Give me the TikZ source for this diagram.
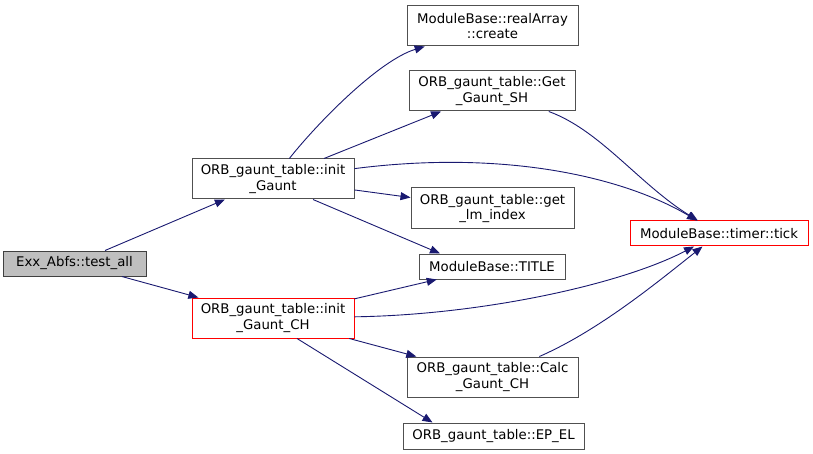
\documentclass[tikz,border=0pt]{standalone}
\usepackage{fontspec}
\setmainfont{DejaVu Sans}
\usepackage{xcolor}
\usepackage{tikz}
\usetikzlibrary{arrows.meta}
\definecolor{callblue}{RGB}{25,25,112}
\definecolor{callgray}{RGB}{80,80,80}
\definecolor{callred}{RGB}{255,0,0}
\definecolor{rootfill}{RGB}{191,191,191}
\tikzset{
  callbox/.style={
    rectangle,
    draw=callgray,
    line width=1pt,
    fill=white,
    align=center,
    inner sep=0pt,
    font=\fontsize{13.3}{15.5}\selectfont
  },
  callroot/.style={
    callbox,
    draw=black!75,
    fill=rootfill
  },
  callhot/.style={
    callbox,
    draw=callred
  },
  callarrow/.style={
    -{Triangle[length=10pt,width=8pt,fill=callblue]},
    line width=0.9pt,
    draw=callblue
  }
}
\begin{document}
\begin{tikzpicture}[x=1pt,y=-1pt]
\useasboundingbox (0,0) rectangle (813,454);
\node[callroot, minimum width=143pt, minimum height=25pt] (testall) at (74.5,263.5) {Exx\_Abfs::test\_all};
\node[callbox, minimum width=162pt, minimum height=40pt] (initgaunt) at (273,179) {ORB\_gaunt\_table::init\\\_Gaunt};
\node[callhot, minimum width=162pt, minimum height=40pt] (initgauntch) at (273,318) {ORB\_gaunt\_table::init\\\_Gaunt\_CH};
\node[callbox, minimum width=171pt, minimum height=40pt] (create) at (492.5,26) {ModuleBase::realArray\\::create};
\node[callbox, minimum width=166pt, minimum height=40pt] (getgauntsh) at (492,91) {ORB\_gaunt\_table::Get\\\_Gaunt\_SH};
\node[callbox, minimum width=163pt, minimum height=41pt] (getlmindex) at (492.5,208.5) {ORB\_gaunt\_table::get\\\_lm\_index};
\node[callbox, minimum width=146pt, minimum height=25pt] (title) at (492,266.5) {ModuleBase::TITLE};
\node[callbox, minimum width=171pt, minimum height=40pt] (calcgauntch) at (492.5,377) {ORB\_gaunt\_table::Calc\\\_Gaunt\_CH};
\node[callbox, minimum width=181pt, minimum height=26pt] (epel) at (493.5,436) {ORB\_gaunt\_table::EP\_EL};
\node[callhot, minimum width=178pt, minimum height=25pt] (tick) at (719,233.5) {ModuleBase::timer::tick};

\draw[callarrow] (testall) -- (initgaunt);
\draw[callarrow] (testall) -- (initgauntch);
\draw[callarrow] (initgaunt) .. controls (320,120) and (380,60) .. (create);
\draw[callarrow] (initgaunt) -- (getgauntsh);
\draw[callarrow] (initgaunt) .. controls (500,150) and (620,175) .. (tick);
\draw[callarrow] (initgaunt) -- (getlmindex);
\draw[callarrow] ([xshift=40pt]initgaunt.south) -- ([xshift=-52pt]title.north);
\draw[callarrow] (getgauntsh) .. controls (600,130) and (640,185) .. (tick);
\draw[callarrow] (initgauntch) -- (title);
\draw[callarrow] (initgauntch) .. controls (480,315) and (620,285) .. (tick);
\draw[callarrow] (initgauntch) -- (calcgauntch);
\draw[callarrow] ([xshift=24pt]initgauntch.south) -- ([xshift=-61pt]epel.north);
\draw[callarrow] (calcgauntch) .. controls (600,330) and (660,280) .. (tick);
\end{tikzpicture}
\end{document}
